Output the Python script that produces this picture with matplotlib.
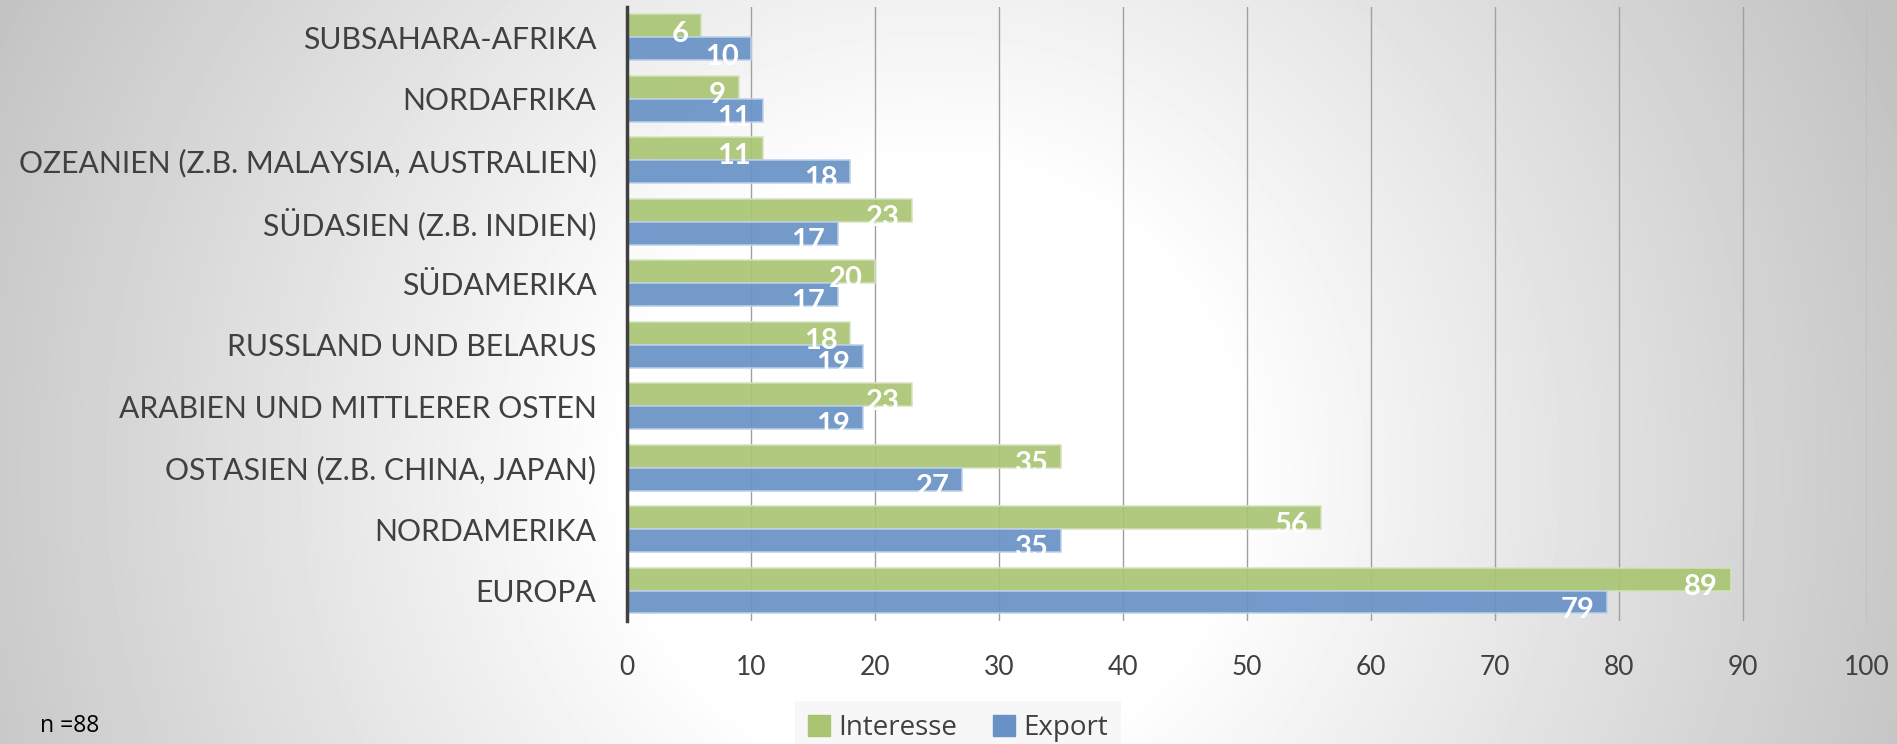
import numpy as np
import matplotlib
matplotlib.use("Agg")
import matplotlib.pyplot as plt
from matplotlib.patches import Patch

regions = [
    "SUBSAHARA-AFRIKA",
    "NORDAFRIKA",
    "OZEANIEN (Z.B. MALAYSIA, AUSTRALIEN)",
    "SÜDASIEN (Z.B. INDIEN)",
    "SÜDAMERIKA",
    "RUSSLAND UND BELARUS",
    "ARABIEN UND MITTLERER OSTEN",
    "OSTASIEN (Z.B. CHINA, JAPAN)",
    "NORDAMERIKA",
    "EUROPA",
]
interesse = [6, 9, 11, 23, 20, 18, 23, 35, 56, 89]
export = [10, 11, 18, 17, 17, 19, 19, 27, 35, 79]
xticks = [0, 10, 20, 30, 40, 50, 60, 70, 80, 90, 100]

GREEN = "#a9c574"
BLUE = "#6892c6"
TEXT = "#404040"

W, H = 1897, 744
fig = plt.figure(figsize=(W / 100, H / 100), dpi=100)

# radial grey background
bg = fig.add_axes([0, 0, 1, 1], zorder=-10)
yy, xx = np.mgrid[0:H, 0:W]
d = np.hypot(xx - 930, yy - 470)
t = np.clip((d - 300) / 750, 0, 1)
bg.imshow(1 - 0.24 * t, cmap="gray", vmin=0, vmax=1, aspect="auto",
          extent=[0, 1, 0, 1], origin="upper")
bg.set_axis_off()

ax = fig.add_axes([627 / W, 0.165, (1867 - 627) / W, 0.991 - 0.165])
ax.set_facecolor("none")

h = 0.374
y = np.arange(len(regions))
b1 = ax.barh(y - h / 2, interesse, height=h, color=GREEN, alpha=0.92,
             edgecolor="#d3e3bb", linewidth=1.2, zorder=2)
b2 = ax.barh(y + h / 2, export, height=h, color=BLUE, alpha=0.92,
             edgecolor="#bccfe8", linewidth=1.2, zorder=2)

for i in range(len(regions)):
    ax.annotate(str(interesse[i]), (interesse[i], y[i]), xytext=(-9, -3),
                textcoords="offset points", ha="right", va="baseline",
                color="white", fontsize=21, fontweight="bold",
                family="Lato", zorder=3, annotation_clip=False)
    ax.annotate(str(export[i]), (export[i], y[i] + h), xytext=(-9, -3),
                textcoords="offset points", ha="right", va="baseline",
                color="white", fontsize=21, fontweight="bold",
                family="Lato", zorder=3, annotation_clip=False)

ax.set_ylim(-0.5, len(regions) - 0.5)
ax.invert_yaxis()
ax.set_xlim(0, 100)
ax.set_xticks(xticks)
ax.set_yticks(y)
ax.set_yticklabels(regions, fontsize=21.7, color=TEXT, family="Lato")
ax.tick_params(axis="y", length=0, pad=22)
ax.tick_params(axis="x", length=0, pad=24, labelsize=19, labelcolor=TEXT)
for lab in ax.get_xticklabels():
    lab.set_family("Lato")

ax.grid(axis="x", color="#a0a0a0", linewidth=1, zorder=0)
ax.set_axisbelow(True)
for s in ["top", "right", "bottom"]:
    ax.spines[s].set_visible(False)
ax.spines["left"].set_color(TEXT)
ax.spines["left"].set_linewidth(2.5)
ax.spines["left"].set_zorder(4)

handles = [Patch(color=GREEN, label="Interesse"), Patch(color=BLUE, label="Export")]
leg = fig.legend(handles=handles, loc="lower center", bbox_to_anchor=(0.505, -0.014),
                 ncol=2, frameon=True, fancybox=False, facecolor="#f7f7f7",
                 edgecolor="none", framealpha=1, handlelength=0.8, handleheight=0.8,
                 handletextpad=0.3, columnspacing=1.3, borderaxespad=0,
                 borderpad=0.45, prop={"family": "Open Sans", "size": 20})
for txt in leg.get_texts():
    txt.set_color(TEXT)

fig.text(40 / W, 0.024, "n =88", fontsize=16.5, family="Open Sans",
         color="black", va="center")

fig.savefig("out.png", dpi=100)
